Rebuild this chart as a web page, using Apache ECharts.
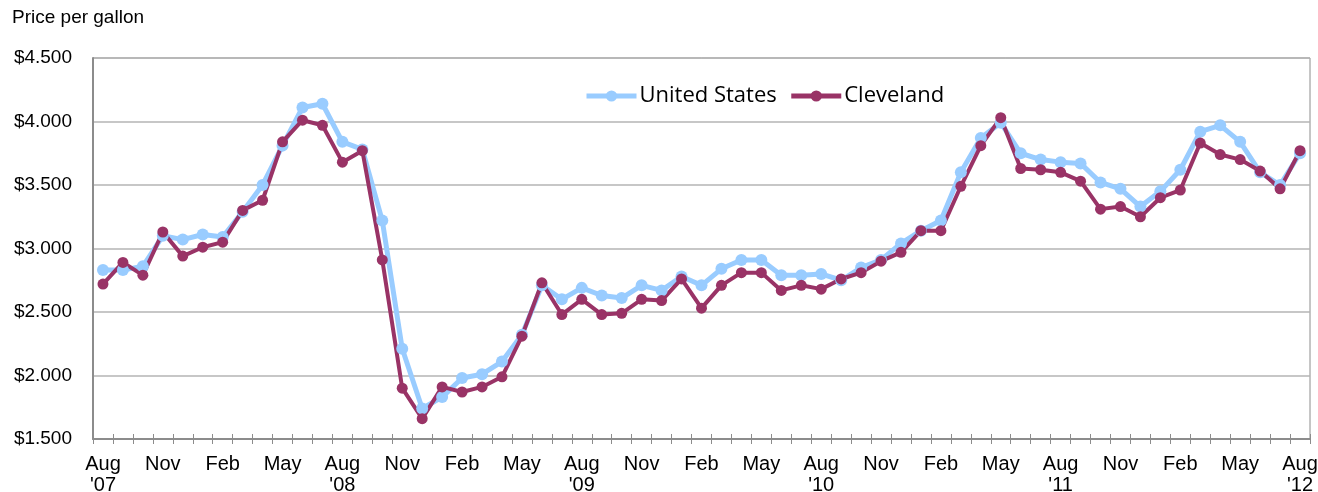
<!DOCTYPE html>
<html><head><meta charset="utf-8">
<script src="https://cdn.jsdelivr.net/npm/echarts@6/dist/echarts.min.js"></script>
<style>html,body{margin:0;padding:0;background:#fff}#c{width:1318px;height:492px}</style>
</head><body><div id="c"></div>
<script>
const months = ['Aug','Sep','Oct','Nov','Dec','Jan','Feb','Mar','Apr','May','Jun','Jul'];
const startYear = 7;
const categories = [];
for (let i = 0; i < 61; i++) {
  const m = months[i % 12];
  const yr = startYear + Math.floor(i / 12);
  categories.push(m === 'Aug' ? m + "\n'" + String(yr).padStart(2, '0') : m);
}
const unitedStates = [2.83,2.83,2.86,3.10,3.07,3.11,3.09,3.29,3.50,3.81,4.11,4.14,3.84,3.78,3.22,2.21,1.74,1.83,1.98,2.01,2.11,2.32,2.71,2.60,2.69,2.63,2.61,2.71,2.67,2.78,2.71,2.84,2.91,2.91,2.79,2.79,2.80,2.75,2.85,2.91,3.04,3.14,3.22,3.60,3.87,3.99,3.75,3.70,3.68,3.67,3.52,3.47,3.33,3.45,3.62,3.92,3.97,3.84,3.60,3.50,3.75];
const cleveland = [2.72,2.89,2.79,3.13,2.94,3.01,3.05,3.30,3.38,3.84,4.01,3.97,3.68,3.77,2.91,1.90,1.66,1.91,1.87,1.91,1.99,2.31,2.73,2.48,2.60,2.48,2.49,2.60,2.59,2.76,2.53,2.71,2.81,2.81,2.67,2.71,2.68,2.76,2.81,2.90,2.97,3.14,3.14,3.49,3.81,4.03,3.63,3.62,3.60,3.53,3.31,3.33,3.25,3.40,3.46,3.83,3.74,3.70,3.61,3.47,3.77];
const yMin = 1.5, yMax = 4.5, yStep = 0.5;

const chart = echarts.init(document.getElementById('c'), null, {renderer: 'canvas'});
chart.setOption({
  animation: false,
  graphic: [{type: 'text', left: 12, top: 8, style: {text: 'Price per gallon', font: '19px "Liberation Sans"', fill: '#000'}}],
  legend: {
    top: 80, left: 579, itemGap: 12, itemWidth: 50, itemHeight: 14,
    lineStyle: {width: 5},
    textStyle: {fontFamily: 'Open Sans', fontSize: 22, color: '#000', padding: [0, 0, 0, -2]},
    data: ['United States', 'Cleveland']
  },
  grid: {left: 93, right: 8, top: 58, bottom: 53, outerBoundsMode: 'none', containLabel: false,
    show: true, borderColor: '#8c8c8c', borderWidth: 1},
  xAxis: [{
    type: 'category', data: categories, boundaryGap: true, position: 'bottom',
    axisLine: {lineStyle: {color: '#8c8c8c', width: 2}},
    axisTick: {show: true, interval: 0, length: 5, lineStyle: {color: '#8c8c8c'}},
    axisLabel: {interval: 2, margin: 15, lineHeight: 21, fontFamily: 'Liberation Sans', fontSize: 20, color: '#000'},
    splitLine: {show: false}
  }, {
    type: 'category', data: categories, boundaryGap: true, position: 'bottom',
    axisLine: {show: false},
    axisTick: {show: true, inside: true, interval: 0, length: 5, lineStyle: {color: '#8c8c8c'}},
    axisLabel: {show: false}, splitLine: {show: false}
  }],
  yAxis: {
    type: 'value', min: yMin, max: yMax, interval: yStep,
    axisLine: {show: true, lineStyle: {color: '#8c8c8c', width: 2}},
    axisTick: {show: false},
    axisLabel: {margin: 21, fontFamily: 'Liberation Sans', fontSize: 19, color: '#000', formatter: v => '$' + v.toFixed(3)},
    splitLine: {lineStyle: {color: '#b4b4b4', width: 1.5}}
  },
  series: [{
    name: 'United States', type: 'line', data: unitedStates,
    symbol: 'circle', symbolSize: 12, color: '#99CCFF',
    lineStyle: {width: 5, color: '#99CCFF'}, itemStyle: {color: '#99CCFF'}
  }, {
    name: 'Cleveland', type: 'line', data: cleveland,
    symbol: 'circle', symbolSize: 11, color: '#993366',
    lineStyle: {width: 4, color: '#993366'}, itemStyle: {color: '#993366'}
  }]
});
</script></body></html>
